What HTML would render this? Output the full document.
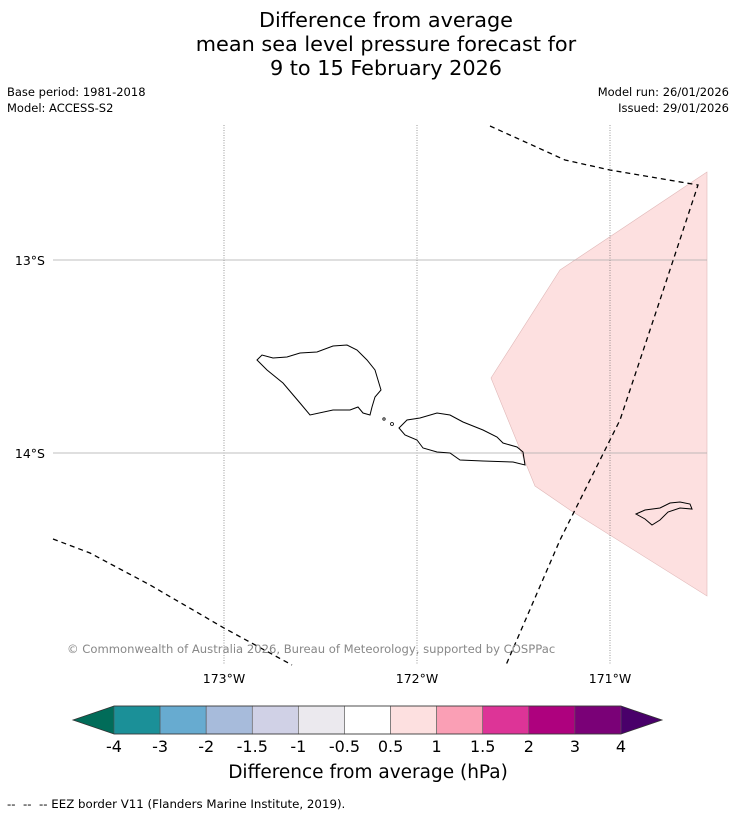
<!DOCTYPE html>
<html><head><meta charset="utf-8">
<style>
body{margin:0;background:#fff;font-family:"Liberation Sans","DejaVu Sans",sans-serif;}
#wrap{position:relative;width:736px;height:816px;overflow:hidden;background:#fff}
.t{position:absolute;white-space:nowrap}
</style></head><body>
<div id="wrap">
<div class="t" style="left:36px;width:700px;top:8px;text-align:center;font-size:20.8px;line-height:24px;font-family:'DejaVu Sans',sans-serif">Difference from average<br>mean sea level pressure forecast for<br>9 to 15 February 2026</div>
<div class="t" style="left:7px;top:84px;font-size:11.5px;line-height:16px;font-family:'DejaVu Sans',sans-serif">Base period: 1981-2018<br>Model: ACCESS-S2</div>
<div class="t" style="right:7px;top:84px;font-size:11.5px;line-height:16px;text-align:right;font-family:'DejaVu Sans',sans-serif">Model run: 26/01/2026<br>Issued: 29/01/2026</div>
<svg id="svg" width="736" height="816" style="position:absolute;left:0;top:0" font-family="DejaVu Sans, sans-serif"></svg>
</div>
<script>
const NS="http://www.w3.org/2000/svg";
const svg=document.getElementById('svg');
function mk(tag,attrs,parent){const e=document.createElementNS(NS,tag);for(const k in attrs)e.setAttribute(k,attrs[k]);(parent||svg).appendChild(e);return e;}
const x=lon=>224+(lon+173)*193;
const y=lat=>260+(-13-lat)*193;
const lonTicks=[-173,-172,-171];
const lonLabels=["173°W","172°W","171°W"];
const latTicks=[-13,-14];
const latLabels=["13°S","14°S"];
const cbBounds=["-4","-3","-2","-1.5","-1","-0.5","0.5","1","1.5","2","3","4"];
const cbColors=["#1b9098","#67abd0","#a7bbdb","#d0d1e6","#ebe9ee","#ffffff","#fde0e0","#fa9fb5","#dd3497","#ae017e","#7a0177"];
const cbLow="#016c59", cbHigh="#49006a";
const pinkPoly=[[707,172],[560,270],[491,378],[535,486],[570,510],[707,596]];
const savaii=[[257,360],[262,355],[273,358],[287,357],[300,353],[317,352],[333,346],[347,345],[357,350],[367,360],[375,370],[378,380],[381,390],[375,397],[372,407],[370,415],[363,413],[358,407],[350,410],[333,410],[310,415],[300,403],[283,383],[267,370]];
const upolu=[[399,428],[407,420],[420,418],[437,413],[450,415],[463,422],[483,430],[497,437],[503,443],[517,447],[523,452],[525,465],[513,462],[483,461],[460,460],[450,453],[437,452],[423,448],[417,440],[405,435]];
const tutuila=[[636,514],[645,510],[660,508],[670,503],[680,502],[690,504],[692,509],[680,508],[668,512],[660,520],[652,525],[645,519]];
const eez1=[[490,126],[565,160],[610,170],[698,185],[660,300],[620,420],[560,540],[506,665]];
const eez2=[[53,539],[90,553],[150,585],[224,628],[292,665]];

const map=mk('g',{});
mk('polygon',{points:pinkPoly.map(p=>p.join(',')).join(' '),fill:'#fde0e0',stroke:'#e0b8b8','stroke-width':0.6,},map);
lonTicks.forEach((l,i)=>{
  mk('line',{x1:x(l),x2:x(l),y1:125,y2:665,stroke:'#555','stroke-width':0.6,'stroke-dasharray':'1,1.5',},map);
  const t=mk('text',{x:x(l),y:683,'text-anchor':'middle','font-size':12.5,},map);t.textContent=lonLabels[i];
});
latTicks.forEach((l,i)=>{
  mk('line',{x1:53,x2:707,y1:y(l),y2:y(l),stroke:'#aaa','stroke-width':0.8,},map);
  const t=mk('text',{x:45,y:y(l)+5,'text-anchor':'end','font-size':12.5,},map);t.textContent=latLabels[i];
});
[[savaii,'savaii-island'],[upolu,'upolu-island'],[tutuila,'tutuila-island']].forEach(([pts,n])=>{
  const e=mk('polygon',{points:pts.map(p=>p.join(',')).join(' '),fill:'none',stroke:'#000','stroke-width':1},map);
  
  
});
mk('circle',{cx:384,cy:419,r:1.2,fill:'none',stroke:'#000','stroke-width':0.8,},map);
mk('circle',{cx:392,cy:424,r:1.5,fill:'none',stroke:'#000','stroke-width':0.8,},map);
[eez1,eez2].forEach(pts=>{
  mk('polyline',{points:pts.map(p=>p.join(',')).join(' '),fill:'none',stroke:'#000','stroke-width':1.3,'stroke-dasharray':'5,4',},map);
});
const cp=mk('text',{x:67,y:653,'font-size':11.6,fill:'#888',},map);
cp.textContent="© Commonwealth of Australia 2026, Bureau of Meteorology, supported by COSPPac";

const cb=mk('g',{});
const cx0=114,cx1=621,cy0=706,cy1=734,n=cbColors.length,w=(cx1-cx0)/n;
mk('polygon',{points:`${cx0},${cy0} ${cx0},${cy1} 73,${(cy0+cy1)/2}`,fill:cbLow,},cb);
mk('polygon',{points:`${cx1},${cy0} ${cx1},${cy1} 662,${(cy0+cy1)/2}`,fill:cbHigh,},cb);
cbColors.forEach((c,i)=>{
  mk('rect',{x:cx0+i*w,y:cy0,width:w,height:cy1-cy0,fill:c,stroke:'#555','stroke-width':0.6,},cb);
});
mk('polygon',{points:`73,${(cy0+cy1)/2} ${cx0},${cy0} ${cx1},${cy0} 662,${(cy0+cy1)/2} ${cx1},${cy1} ${cx0},${cy1}`,fill:'none',stroke:'#333','stroke-width':0.8,},cb);
cbBounds.forEach((b,i)=>{
  const t=mk('text',{x:cx0+i*w,y:752,'text-anchor':'middle','font-size':16,},cb);t.textContent=b;
});
const ct=mk('text',{x:368,y:778,'text-anchor':'middle','font-size':18.5,},cb);
ct.textContent="Difference from average (hPa)";
const ft=mk('text',{x:7,y:808,'font-size':11.8,});
ft.textContent="--\u00a0\u00a0--\u00a0\u00a0-- EEZ border V11 (Flanders Marine Institute, 2019).";
</script>
</body></html>
